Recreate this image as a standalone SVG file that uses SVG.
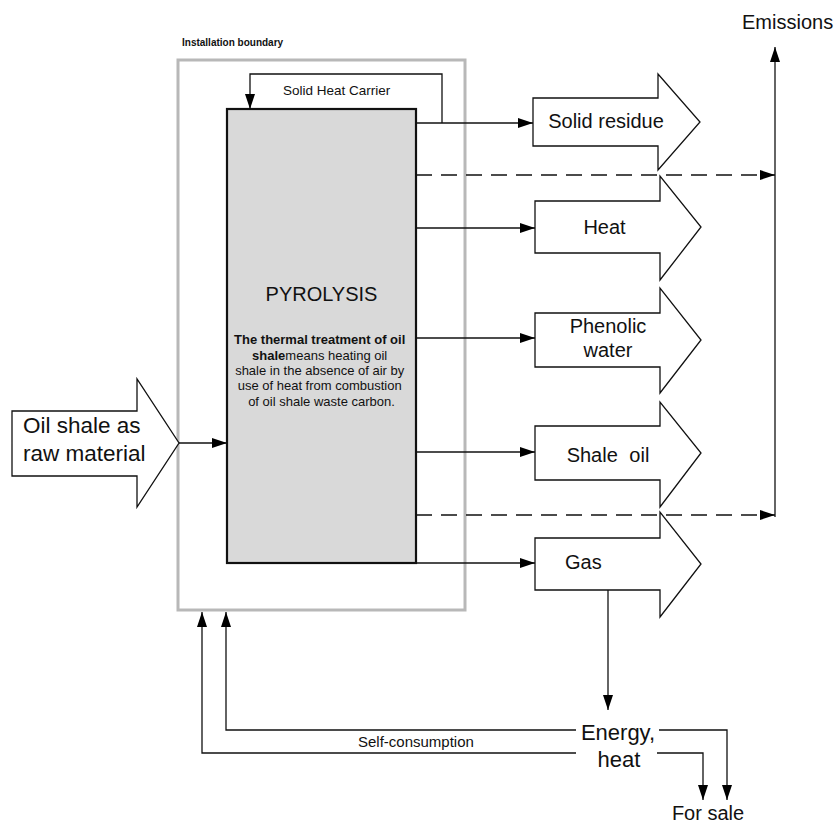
<svg xmlns="http://www.w3.org/2000/svg" width="834" height="823" viewBox="0 0 834 823">
<style>
text{font-family:"Liberation Sans",Arial,sans-serif;fill:#111}
.ln{fill:none;stroke:#111;stroke-width:1.3}
.dash{fill:none;stroke:#111;stroke-width:1.3;stroke-dasharray:16 9}
.blk{fill:#fff;stroke:#111;stroke-width:1.3}
.lbl{font-size:20px;text-anchor:middle}
</style>
<defs>
<marker id="ah" markerWidth="15" markerHeight="10" refX="15" refY="5" orient="auto" markerUnits="userSpaceOnUse"><path d="M0,0 L15,5 L0,10 z" fill="#000"/></marker>
</defs>
<rect width="834" height="823" fill="#fff"/>
<g id="boundary">
<rect x="178" y="60" width="287" height="550" fill="none" stroke="#b8b8b8" stroke-width="3"/>
<text x="182" y="46" font-size="10" font-weight="bold">Installation boundary</text>
</g>
<g id="pyrolysis">
<rect x="227" y="109" width="189" height="454" fill="#d9d9d9" stroke="#111" stroke-width="2.2"/>
<text x="321.5" y="301" font-size="20" text-anchor="middle">PYROLYSIS</text>
<text x="321.5" font-size="13" text-anchor="middle">
<tspan x="321.5" y="344" font-weight="bold">The thermal treatment of oil</tspan>
<tspan x="321.5" y="360"><tspan font-weight="bold">shale</tspan>means heating oil</tspan>
<tspan x="321.5" y="375">shale in the absence of air by</tspan>
<tspan x="321.5" y="390">use of heat from combustion</tspan>
<tspan x="321.5" y="406">of oil shale waste carbon.</tspan>
</text>
</g>
<g id="input">
<path class="blk" d="M12,411 H137 V379 L179,443 L137,507 V476 H12 Z"/>
<text x="23" y="433" font-size="22.5">Oil  shale as</text>
<text x="23" y="461" font-size="22.5">raw material</text>
</g>
<g id="solid-residue">
<path class="blk" d="M533,98 H658 V74 L700,122 L658,170 V146 H533 Z"/>
<text class="lbl" x="606" y="128">Solid residue</text>
</g>
<g id="heat">
<path class="blk" d="M535,201 H660 V176 L701,227 L660,280 V253 H535 Z"/>
<text class="lbl" x="604.5" y="234">Heat</text>
</g>
<g id="phenolic-water">
<path class="blk" d="M535,313 H660 V288 L701,340 L660,393 V367 H535 Z"/>
<text class="lbl" x="608" y="333">Phenolic</text>
<text class="lbl" x="608" y="357">water</text>
</g>
<g id="shale-oil">
<path class="blk" d="M535,426 H660 V402 L701,453 L660,507 V480 H535 Z"/>
<text class="lbl" x="608" y="462" font-size="21" word-spacing="6">Shale oil</text>
</g>
<g id="gas">
<path class="blk" d="M535,538 H660 V512 L701,564 L660,617 V590 H535 Z"/>
<text x="565" y="569" font-size="20">Gas</text>
</g>
<g id="emissions">
<text x="742" y="29" font-size="20">Emissions</text>
</g>
<g id="energy-heat">
<text x="618" y="740" font-size="22" text-anchor="middle">Energy,</text>
<text x="619" y="767" font-size="22" text-anchor="middle">heat</text>
</g>
<g id="for-sale">
<text x="708" y="820" font-size="20" text-anchor="middle">For sale</text>
</g>
<g id="connectors">
<path class="ln" d="M179,443 H227" marker-end="url(#ah)"/>
<path class="ln" d="M416,123 H533" marker-end="url(#ah)"/>
<path class="ln" d="M442,123 V74 H250 V109" marker-end="url(#ah)"/>
<path class="ln" d="M416,228 H535" marker-end="url(#ah)"/>
<path class="ln" d="M416,338 H535" marker-end="url(#ah)"/>
<path class="ln" d="M416,452 H535" marker-end="url(#ah)"/>
<path class="ln" d="M416,563 H535" marker-end="url(#ah)"/>
<path class="dash" d="M416,175 H775" marker-end="url(#ah)"/>
<path class="dash" d="M416,515 H775" marker-end="url(#ah)"/>
<path class="ln" d="M775,517 V47" marker-end="url(#ah)"/>
<path class="ln" d="M608,590 V710" marker-end="url(#ah)"/>
<path class="ln" d="M576,730 H226 V612" marker-end="url(#ah)"/>
<path class="ln" d="M576,753 H202 V612" marker-end="url(#ah)"/>
<path class="ln" d="M659,730 H727 V800" marker-end="url(#ah)"/>
<path class="ln" d="M657,753 H703 V800" marker-end="url(#ah)"/>
<text x="358" y="747" font-size="15">Self-consumption</text>
<text x="283" y="95" font-size="13.5">Solid Heat Carrier</text>
</g>
</svg>
